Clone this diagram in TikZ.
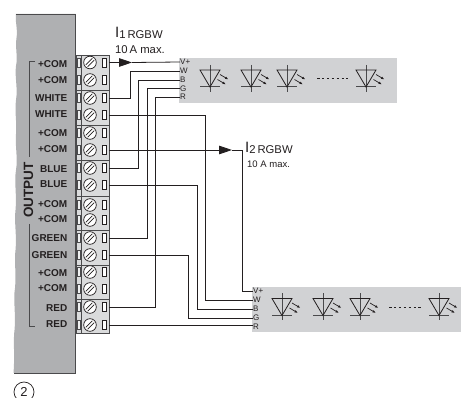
\documentclass[tikz,border=0pt]{standalone}
\usepackage{fontspec}
\setmainfont{Liberation Sans}
\usetikzlibrary{arrows.meta}
\definecolor{panelgray}{HTML}{AFB0B2}
\definecolor{stripgray}{HTML}{D1D2D4}
\definecolor{termgray}{HTML}{DADBDC}
\definecolor{inkdark}{HTML}{231F20}
\definecolor{inkgray}{HTML}{4A4A4C}
\tikzset{
  wire/.style={draw=inkdark,line width=0.8pt},
  wirehead/.style={wire,-{Triangle[length=13pt,width=8.5pt]}},
  termlabel/.style={anchor=east,inner sep=0pt,text=inkdark,font=\fontsize{10}{11}\selectfont\bfseries},
  pinlabel/.style={anchor=west,inner sep=0pt,text=inkdark,font=\fontsize{8}{9}\selectfont},
  bigtext/.style={anchor=west,inner sep=0pt,text=inkdark,font=\fontsize{11.3}{12}\selectfont},
  ledsym/.pic={
    \draw[inkgray,line width=0.9pt] (0,-13.5) -- (0,13.5);
    \draw[inkgray,line width=1pt] (-10,8.5) -- (10,8.5);
    \draw[inkdark,line width=0.8pt,line join=miter] (-10,-8.5) -- (10,-8.5) -- (0,8.5) -- cycle;
    \draw[inkdark,line width=0.7pt,-{Latex[length=3.5pt,width=2.6pt]}] (10,-4) -- (18.5,1);
    \draw[inkdark,line width=0.7pt,-{Latex[length=3.5pt,width=2.6pt]}] (7.5,1) -- (16,6);
  }
}
\begin{document}
\begin{tikzpicture}[x=1pt,y=-1pt]
\useasboundingbox (0,0) rectangle (461,398);
% housing
\fill[panelgray] (75.5,14) -- (16,14)
  .. controls (15,24) and (18,28) .. (16.5,38)
  .. controls (15,48) and (18,56) .. (16,66)
  .. controls (14.5,76) and (18,88) .. (16,100)
  .. controls (14.5,112) and (17,122) .. (16,134)
  .. controls (15,146) and (18,158) .. (16,170)
  .. controls (14,182) and (17,196) .. (15.5,210)
  .. controls (14,222) and (17,236) .. (15.5,250)
  .. controls (14,262) and (16.5,274) .. (15,288)
  .. controls (13,300) and (16,314) .. (14.5,330)
  .. controls (13,342) and (15,354) .. (13.5,373)
  -- (75.5,373) -- cycle;
\draw[inkgray,line width=0.8pt] (16,14) -- (75.5,14) -- (75.5,373) -- (13.5,373);
% strips
\fill[stripgray] (179,58) rectangle (397,103);
\fill[stripgray] (252,287) rectangle (461,332);
% terminal body
\fill[termgray] (76,55) rectangle (109,333);
\foreach \ya/\yb in {55/90,90/125,125/160,160/196,196/230,230/265,265/299,299/333}
  \draw[inkgray,line width=0.7pt] (76,\ya) rectangle (109,\yb);
\draw[inkgray,line width=0.6pt] (81,55) -- (81,333);
% terminals
\foreach \i/\yy in {1/62.5,2/80,3/98,4/115,5/133,6/150,7/168,8/185,9/205,10/220,11/238,12/255,13/272,14/289,15/307,16/325}{
  \draw[inkgray,line width=0.5pt,fill=white!60!termgray] (77,\yy-4.5) rectangle (80,\yy+4.5);
  \draw[inkdark,line width=0.7pt,fill=white] (90,\yy) circle (6.3);
  \draw[inkdark,line width=0.7pt] (85.8,\yy+2.4) -- (92.4,\yy-4.2);
  \draw[inkdark,line width=0.7pt] (87.6,\yy+4.2) -- (94.2,\yy-2.4);
  \draw[inkdark,line width=0.7pt,fill=white] (102.5,\yy-4.5) rectangle (106,\yy+4.5);
  \node[inner sep=0pt,minimum size=0pt] (t\i) at (109,\yy) {};
}
% terminal labels
\foreach \lab/\yy in {{+COM}/64,{+COM}/80,{WHITE}/98,{WHITE}/114,{+COM}/133,{+COM}/149,{BLUE}/169,{BLUE}/184,{+COM}/204,{+COM}/219,{GREEN}/238,{GREEN}/255,{+COM}/273,{+COM}/288,{RED}/308,{RED}/324}
  \node[termlabel] at (67.5,\yy) {\lab};
% bracket and OUTPUT
\draw[inkgray,line width=0.8pt] (35,61) -- (29,61) -- (29,157);
\draw[inkgray,line width=0.8pt] (29,224) -- (29,326) -- (35,326);
\node[inner sep=0pt,rotate=90,text=inkdark,font=\fontsize{13.5}{14}\selectfont\bfseries] (out) at (28.5,190) {OUTPUT};
% pin labels strip 1
\node[pinlabel] (a1) at (180,62) {V+};
\node[pinlabel] (a2) at (180,71) {W};
\node[pinlabel] (a3) at (180,80) {B};
\node[pinlabel] (a4) at (180,88.5) {G};
\node[pinlabel] (a5) at (180,97) {R};
% pin labels strip 2
\node[pinlabel] (b1) at (253,291) {V+};
\node[pinlabel] (b2) at (253,300) {W};
\node[pinlabel] (b3) at (253,309) {B};
\node[pinlabel] (b4) at (253,318) {G};
\node[pinlabel] (b5) at (253,326.5) {R};
% arrows
\coordinate (h1) at (132,62.5);
\coordinate (h2) at (232,150);
\draw[wirehead] (t1) -- (h1);
\draw[wire] (h1) -- (a1.west);
\draw[wirehead] (t6) -- (h2);
\draw[wire] (h2) -- ++(10,0) |- (b1.west);
% wires to strip 1
\draw[wire] (t3) -- ++(21,0) |- (a2.west);
\draw[wire] (t7) -- ++(29.5,0) |- (a3.west);
\draw[wire] (t11) -- ++(38,0) |- (a4.west);
\draw[wire] (t15) -- ++(46.5,0) |- (a5.west);
% wires to strip 2
\draw[wire] (t4) -- ++(96,0) |- (b2.west);
\draw[wire] (t8) -- ++(88,0) |- (b3.west);
\draw[wire] (t12) -- ++(79,0) |- (b4.west);
\draw[wire] (t16) -- (b5.west |- t16);
% LEDs
\foreach \xx in {210,251,287,366} \pic at (\xx,78.5) {ledsym};
\foreach \xx in {282,323,360,439} \pic at (\xx,307) {ledsym};
\draw[inkdark,line width=0.8pt,dash pattern=on 2.5pt off 2.4pt] (317,78.5) -- (348,78.5);
\draw[inkdark,line width=0.8pt,dash pattern=on 2.5pt off 2.4pt] (389,307.5) -- (422,307.5);
% texts
\node[bigtext] (i1) at (115,33) {{\fontsize{15}{16}\selectfont I}\raisebox{-1pt}{1\,RGBW}};
\node[bigtext] (m1) at (115,50) {10\,A max.};
\node[bigtext] (i2) at (245,148) {{\fontsize{15}{16}\selectfont I}\raisebox{-1pt}{2\,RGBW}};
\node[bigtext,font=\fontsize{9.5}{10}\selectfont] (m2) at (247,164) {10 A max.};
% numbered mark
\node[draw=inkdark,line width=0.7pt,circle,minimum size=20pt,inner sep=0pt,text=inkdark,font=\fontsize{13}{14}\selectfont] (mark) at (24,392) {2};
\end{tikzpicture}
\end{document}
